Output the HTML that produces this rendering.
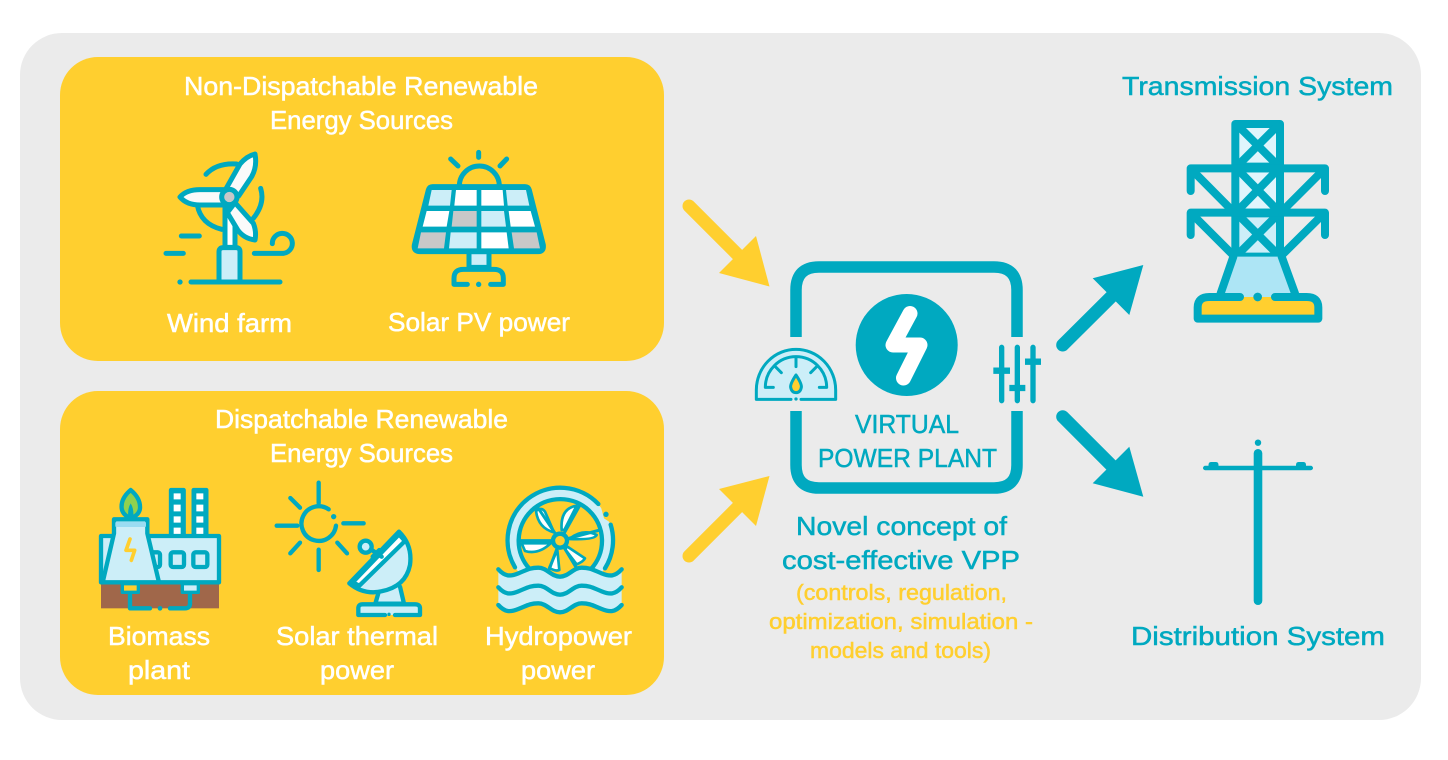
<!DOCTYPE html>
<html><head><meta charset="utf-8"><style>
html,body{margin:0;padding:0;background:#fff}
svg{display:block}
text{font-family:"Liberation Sans",sans-serif;font-size:26px;stroke-width:.5px}
.w{fill:#fff;stroke:#fff}.t{fill:#00a9c0;stroke:#00a9c0}.y{fill:#ffcf2f;stroke:#ffcf2f;font-size:22px}
.i{fill:none;stroke:#00a9c0;stroke-linecap:round;stroke-linejoin:round}
.d{fill:#00a9c0;stroke:none}
</style></head><body>
<svg width="1448" height="760" viewBox="0 0 1448 760" xmlns="http://www.w3.org/2000/svg">
<rect width="1448" height="760" fill="#fff"/>
<rect x="20" y="33" width="1401" height="687" rx="42" fill="#ebebeb"/>
<rect x="60" y="57" width="604" height="304" rx="38" fill="#ffcf2f"/>
<rect x="60" y="391" width="604" height="304" rx="38" fill="#ffcf2f"/>

<!-- labels -->
<text class="w" x="184" y="95" textLength="354" lengthAdjust="spacingAndGlyphs">Non-Dispatchable Renewable</text>
<text class="w" x="270" y="129" textLength="183" lengthAdjust="spacingAndGlyphs">Energy Sources</text>
<text class="w" x="167" y="332" textLength="125" lengthAdjust="spacingAndGlyphs">Wind farm</text>
<text class="w" x="388" y="331" textLength="182" lengthAdjust="spacingAndGlyphs">Solar PV power</text>
<text class="w" x="215" y="428" textLength="293" lengthAdjust="spacingAndGlyphs">Dispatchable Renewable</text>
<text class="w" x="270" y="462" textLength="183" lengthAdjust="spacingAndGlyphs">Energy Sources</text>
<text class="w" x="108" y="645" textLength="102" lengthAdjust="spacingAndGlyphs">Biomass</text>
<text class="w" x="128" y="679" textLength="62" lengthAdjust="spacingAndGlyphs">plant</text>
<text class="w" x="276" y="645" textLength="162" lengthAdjust="spacingAndGlyphs">Solar thermal</text>
<text class="w" x="320" y="679" textLength="74" lengthAdjust="spacingAndGlyphs">power</text>
<text class="w" x="485" y="645" textLength="147" lengthAdjust="spacingAndGlyphs">Hydropower</text>
<text class="w" x="521" y="679" textLength="74" lengthAdjust="spacingAndGlyphs">power</text>
<text class="t" x="855" y="433" textLength="104" lengthAdjust="spacingAndGlyphs">VIRTUAL</text>
<text class="t" x="818" y="467" textLength="179" lengthAdjust="spacingAndGlyphs">POWER PLANT</text>
<text class="t" x="796" y="535" textLength="211" lengthAdjust="spacingAndGlyphs">Novel concept of</text>
<text class="t" x="782" y="569" textLength="238" lengthAdjust="spacingAndGlyphs">cost-effective VPP</text>
<text class="y" x="796" y="600" textLength="211" lengthAdjust="spacingAndGlyphs">(controls, regulation,</text>
<text class="y" x="769" y="629" textLength="264" lengthAdjust="spacingAndGlyphs">optimization, simulation -</text>
<text class="y" x="810" y="658" textLength="181" lengthAdjust="spacingAndGlyphs">models and tools)</text>
<text class="t" x="1122" y="95" textLength="271" lengthAdjust="spacingAndGlyphs">Transmission System</text>
<text class="t" x="1131" y="645" textLength="254" lengthAdjust="spacingAndGlyphs">Distribution System</text>

<!-- arrows -->
<path d="M689 206L738 255" stroke="#ffcf2f" stroke-width="13" stroke-linecap="round"/>
<path d="M756 236L769.5 286.5L719 273Z" fill="#ffcf2f"/>
<path d="M689 556L738 507" stroke="#ffcf2f" stroke-width="13" stroke-linecap="round"/>
<path d="M719 489L769.5 476L756 526Z" fill="#ffcf2f"/>
<path d="M1062.7 345L1112 296" stroke="#00a9c0" stroke-width="13" stroke-linecap="round"/>
<path d="M1092.7 278.300L1143.300 265L1129.300 315Z" fill="#00a9c0"/>
<path d="M1062.7 416.700L1112 466" stroke="#00a9c0" stroke-width="13" stroke-linecap="round"/>
<path d="M1129.300 446.700L1143.300 496.700L1092.700 483.300Z" fill="#00a9c0"/>

<!-- wind + solar (zoom coordinates) -->
<g transform="translate(140,140) scale(.33333)" class="i" stroke-width="15">
 <path d="M198 103Q230 68 290 72M172 195Q182 252 245 268M362 145Q376 190 340 235"/>
 <path d="M124 288H178M78 340H130M343 340H430A30 30 0 1 0 397 311M153 426H420"/>
 <circle class="d" cx="120" cy="426" r="8"/>
 <path d="M255 200V322H285V200Z" fill="#fff"/>
 <path d="M237 426V335Q237 323 250 323H288Q300 323 300 335V426Z" fill="#cceef8"/>
 <path d="M256 150L300 72Q320 48 345 42Q352 80 335 110L296 168Z" fill="#fafafa"/>
 <path d="M250 149H180Q140 149 120 171Q140 195 180 195H250Z" fill="#fafafa"/>
 <path d="M285 188L340 250Q350 275 345 300Q310 295 292 268L262 218Z" fill="#fafafa"/>
 <circle cx="268" cy="171" r="23" fill="#c8c8c8"/>
 <path d="M1016 37V52M932 57L954 78M1100 57L1080 78M958 138A60 60 0 0 1 1078 138"/>
 <path d="M987 335H1047V382H987Z" fill="#cceef8"/>
 <path d="M982 433H942V415Q942 388 970 388H1062Q1090 388 1090 415V433H1052"/>
 <circle class="d" cx="1016" cy="433" r="8"/>
 <path d="M878 140H1155Q1165 140 1168 150L1210 315Q1212 335 1195 335H840Q820 335 823 315L865 150Q868 140 878 140Z" fill="#00a9c0"/>
 <g stroke="none">
 <path fill="#cceef8" d="M875 150H935L930 197H865ZM1098 150H1158L1168 197H1103ZM1024 213H1092L1098 260H1024ZM932 277H1010V325H927Z"/>
 <path fill="#fff" d="M948 150H1010V197H943ZM1024 150H1088L1092 197H1024ZM860 213H928L920 260H848ZM1106 213H1172L1185 260H1112ZM1024 277H1100L1106 325H1024Z"/>
 <path fill="#c8c8c8" d="M940 213H1010V260H935ZM843 277H918L912 325H833ZM1115 277H1190L1200 325H1122Z"/>
 </g>
</g>

<!-- biomass + solar thermal -->
<g transform="translate(90,475) scale(.33333)" class="i" stroke-width="13">
 <rect x="33" y="322" width="354" height="78" fill="#a0674a" stroke="none"/>
 <path d="M243 180V45H281V180M311 180V45H349V180" fill="#00a9c0"/>
 <path fill="#fff" stroke="none" d="M251 55h21v18h-21zM251 89h21v20h-21zM251 124h21v19h-21zM251 158h21v20h-21zM319 55h21v18h-21zM319 89h21v20h-21zM319 124h21v19h-21zM319 158h21v20h-21z"/>
 <rect x="33" y="183" width="354" height="139" fill="#cceef8"/>
 <rect x="242" y="232" width="40" height="44" rx="7" fill="#cceef8"/>
 <rect x="310" y="232" width="42" height="44" rx="7" fill="#cceef8"/>
 <rect x="180" y="232" width="30" height="44" rx="7" fill="#cceef8"/>
 <path d="M122 45Q92 70 95 100Q98 120 122 130Q148 120 150 100Q152 70 122 45Z" fill="#8fd14f"/>
 <path d="M122 85Q112 100 115 128H130Q132 100 122 85Z" fill="#00a9c0" stroke="none"/>
 <path d="M72 133H172V175L207 322H38L72 175Z" fill="#cceef8"/>
 <rect x="76" y="141" width="92" height="15" rx="3" fill="#9adcf2" stroke="none"/>
 <path d="M120 192L108 226H134L124 256" stroke="#ffcf2f" stroke-width="11" fill="none"/>
 <rect x="97" y="326" width="48" height="26" fill="#ffcf2f" stroke-width="10"/>
 <rect x="277" y="326" width="48" height="26" fill="#cceef8" stroke-width="10"/>
 <path d="M120 355V400H180M300 355V385Q300 400 285 400H240"/>
 <circle class="d" cx="210" cy="400" r="7"/>
 <path d="M686 23V84M601 69L630 98M560 152H622M601 235L630 203M686 224V285M771 235L742 203M760 145H821"/>
 <path d="M716 103A52 52 0 1 0 738 152"/>
 <circle class="d" cx="731" cy="125" r="8"/>
 <path d="M865 355L856 386H942L930 335" fill="#cceef8"/>
 <path d="M927 170Q968 210 960 270Q945 345 850 352Q810 352 778 325Z" fill="#cceef8"/>
 <path d="M788 322L927 178L945 198L808 332Z" fill="#fff"/>
 <path d="M848 245L868 225M838 220L875 245"/>
 <circle cx="827" cy="215" r="18" fill="#cceef8"/>
 <path d="M885 420H805V400Q805 388 818 388H975Q990 388 990 400V420H915" fill="#cceef8"/>
 <circle class="d" cx="897" cy="418" r="5"/>
</g>

<!-- hydro -->
<g transform="translate(480,475) scale(.33333)" class="i" stroke-width="13">
 <circle cx="241" cy="197" r="141" fill="none" stroke="#cceef8" stroke-width="32"/>
 <path fill="#ffcf2f" stroke="none" d="M358 78L410 110L398 147L372 130Z"/>
 <path d="M105 277A158 158 0 0 1 355 87M392 149A158 158 0 0 1 375 280"/>
 <circle class="d" cx="378" cy="118" r="8"/>
 <path d="M149 282A125 125 0 1 1 333 282"/>
 <g stroke-width="8">
 <path fill="#fff" d="M168 108Q185 95 195 110L222 172Q175 160 168 108Z"/>
 <path fill="#fff" d="M245 165Q240 100 290 92L253 165Z"/>
 <path fill="#fff" d="M270 190Q310 160 350 180Q345 195 270 192Z"/>
 <path fill="#fff" d="M125 205H212Q175 240 135 228Z"/>
 <path fill="#fff" d="M232 225L208 278Q225 290 238 285Z"/>
 <path fill="#fff" d="M255 222L290 268Q310 260 315 250L262 215Z"/>
 </g>
 <path stroke-width="9" d="M240 197L175 100M240 197L300 90M240 197L360 165M240 197H120M240 197L205 290M240 197L290 280"/>
 <circle cx="240" cy="197" r="21" fill="#ffcf2f"/>
 <path fill="#cceef8" stroke="none" d="M55 283C75 305 90 305 115 295C140 285 150 278 175 278C200 278 215 305 240 305C265 305 280 278 305 278C330 278 340 285 365 295C390 305 405 305 425 283V390C405 412 390 412 365 402C340 392 330 385 305 385C280 385 265 412 240 412C215 412 200 385 175 385C150 385 140 392 115 402C90 412 75 412 55 390Z"/>
 <path d="M55 283C75 305 90 305 115 295C140 285 150 278 175 278C200 278 215 305 240 305C265 305 280 278 305 278C330 278 340 285 365 295C390 305 405 305 425 283"/>
 <path d="M55 337C75 359 90 359 115 349C140 339 150 332 175 332C200 332 215 359 240 359C265 359 280 332 305 332C330 332 340 339 365 349C390 359 405 359 425 337"/>
 <path d="M55 390C75 412 90 412 115 402C140 392 150 385 175 385C200 385 215 412 240 412C265 412 280 385 305 385C330 385 340 392 365 402C390 412 405 412 425 390"/>
</g>

<!-- VPP -->
<path d="M796 337V290Q796 267 819 267H994Q1017 267 1017 290V337M796 411V465Q796 488 819 488H994Q1017 488 1017 465V411" fill="none" stroke="#00a9c0" stroke-width="11.500"/>
<circle cx="906.700" cy="345" r="51" fill="#00a9c0"/>
<path d="M910 313.500L893 345H920L903.500 378" fill="none" stroke="#fff" stroke-width="15" stroke-linecap="round" stroke-linejoin="round"/>
<g transform="translate(740,250) scale(.33333)" class="i" stroke-width="9">
 <path d="M49 448V420A119 122 0 0 1 287 420V448H183M153 448H49Z" fill="#cceef8"/>
 <path d="M100 412H76A92 92 0 0 1 260 412H238" fill="none"/>
 <path d="M168 325V350M108 352L124 368M228 352L212 368"/>
 <path d="M168 375Q150 402 152 412Q155 428 168 428Q181 428 184 412Q186 402 168 375Z" fill="#ffcf2f"/>
 <circle class="d" cx="168" cy="447" r="5"/>
 <path d="M785 292V452M832 292V452M879 292V452" stroke-width="16"/>
 <path d="M760 362H810M808 414H856M855 335H903" stroke-width="19" stroke-linecap="butt"/>
</g>

<!-- tower -->
<g transform="translate(1170,110) scale(.33333)" class="i" stroke-width="24">
 <path d="M196 42H330V170H196Z" fill="#dff5fc"/>
 <path d="M196 175H330V308H196Z" fill="#dff5fc"/>
 <path d="M196 310H330V440H196Z" fill="#cceef8"/>
 <path d="M205 48L322 165M322 48L205 165M205 180L322 300M322 180L205 300M205 315L322 432M322 315L205 432"/>
 <path d="M62 243V175H465V243M62 375V308H465V375"/>
 <path d="M66 180L190 305M460 180L335 305M66 312L190 436M460 312L335 436"/>
 <path d="M83 626V592Q83 561 118 561H410Q445 561 445 592V626Z" fill="#ffcf2f" stroke="none"/>
 <path d="M190 440H335L375 561H152Z" fill="#ade5f5" stroke="none"/>
 <path d="M190 440L152 550M335 440L375 550"/>
 <path d="M210 561H118Q83 561 83 592V626H445V592Q445 561 410 561H315"/>
 <circle class="d" cx="263" cy="561" r="13"/>
</g>

<!-- pole -->
<g fill="#00a9c0">
 <circle cx="1258" cy="442.700" r="3.200"/>
 <rect x="1253.700" y="449" width="8.600" height="156" rx="4.300"/>
 <rect x="1203" y="465.800" width="110" height="4.400" rx="2.200"/>
 <path d="M1208.500 467V465Q1208.500 462 1211 462H1216Q1218.500 462 1218.500 465V467ZM1296 467V465Q1296 462 1298.500 462H1303.500Q1306 462 1306 465V467Z"/>
</g>
</svg>
</body></html>
